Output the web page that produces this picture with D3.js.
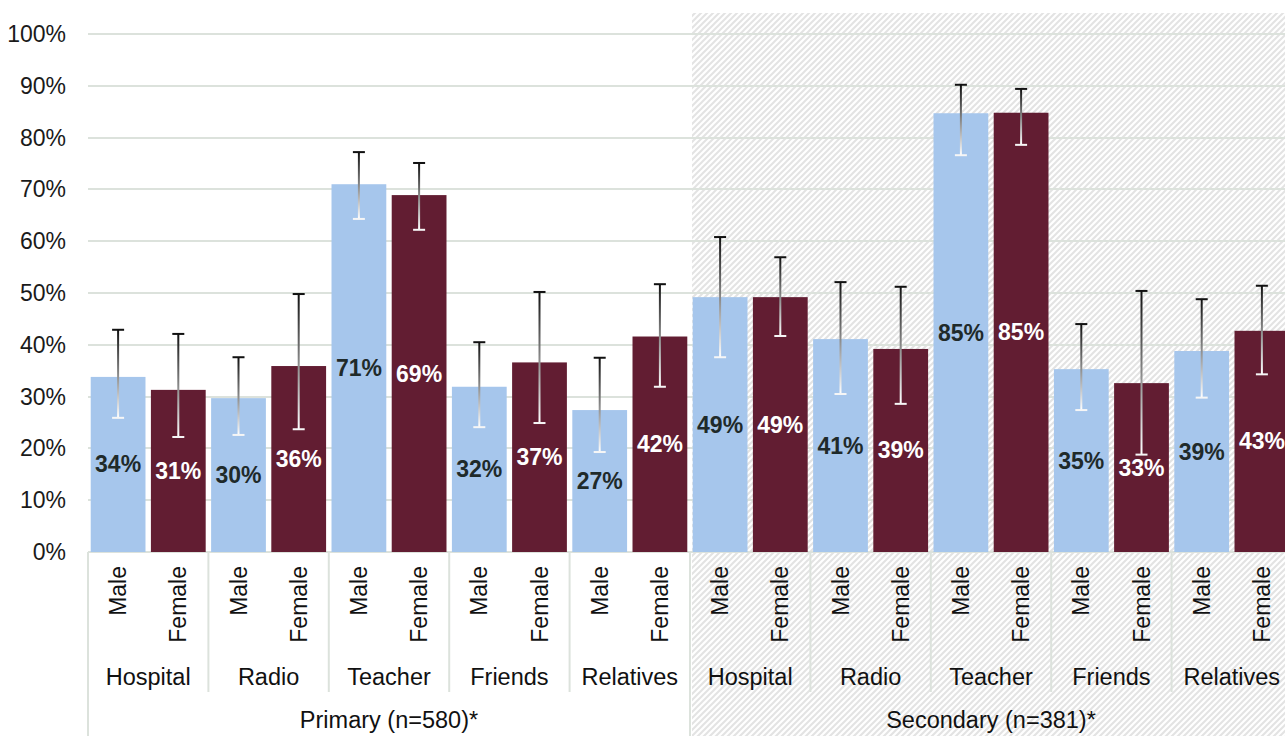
<!DOCTYPE html>
<html>
<head>
<meta charset="utf-8">
<script src="https://cdn.jsdelivr.net/npm/d3@7"></script>
<style>
  html, body { margin: 0; padding: 0; background: #fff; }
  svg { display: block; font-family: "Liberation Sans", Arial, sans-serif; }
</style>
</head>
<body>
<svg id="chart" width="1285" height="736"></svg>
<script>
// ---- Data ----
const groups = ["Primary (n=580)*", "Secondary (n=381)*"];
const sources = ["Hospital", "Radio", "Teacher", "Friends", "Relatives"];
const sexes = ["Male", "Female"];

const primaryMale        = [33.8, 29.7, 71.0, 31.9, 27.4];
const primaryMaleLow     = [25.9, 22.6, 64.3, 24.1, 19.3];
const primaryMaleHigh    = [42.9, 37.6, 77.2, 40.5, 37.5];
const primaryFemale      = [31.3, 35.9, 68.9, 36.6, 41.6];
const primaryFemaleLow   = [22.2, 23.7, 62.2, 24.9, 31.9];
const primaryFemaleHigh  = [42.1, 49.8, 75.1, 50.2, 51.7];

const secondaryMale       = [49.2, 41.1, 84.7, 35.3, 38.8];
const secondaryMaleLow    = [37.6, 30.5, 76.6, 27.4, 29.8];
const secondaryMaleHigh   = [60.8, 52.1, 90.2, 44.0, 48.8];
const secondaryFemale     = [49.2, 39.2, 84.8, 32.6, 42.7];
const secondaryFemaleLow  = [41.7, 28.6, 78.6, 18.8, 34.3];
const secondaryFemaleHigh = [56.9, 51.2, 89.4, 50.4, 51.4];

const yTicks = [0, 10, 20, 30, 40, 50, 60, 70, 80, 90, 100];

// ---- Build flat rows ----
const series = [
  [[primaryMale, primaryMaleLow, primaryMaleHigh], [primaryFemale, primaryFemaleLow, primaryFemaleHigh]],
  [[secondaryMale, secondaryMaleLow, secondaryMaleHigh], [secondaryFemale, secondaryFemaleLow, secondaryFemaleHigh]]
];
const rows = [];
groups.forEach((g, gi) => {
  sources.forEach((s, si) => {
    sexes.forEach((sx, xi) => {
      const [v, lo, hi] = series[gi][xi];
      rows.push({ group: g, gi, source: s, si, sex: sx, xi,
                  key: gi + "-" + si + "-" + xi, value: v[si], low: lo[si], high: hi[si] });
    });
  });
});

// ---- Layout ----
const svg = d3.select("#chart");
const W = 1285, H = 736;
const plotLeft = 88, plotRight = 1292, plotTop = 34, plotBase = 552;

const x = d3.scaleBand().domain(rows.map(d => d.key)).range([plotLeft, plotRight])
  .paddingInner(0.09).paddingOuter(0.045);
const catX = d3.scaleBand().domain(d3.range(groups.length * sources.length)).range([plotLeft, plotRight]);
const groupX = d3.scaleBand().domain(groups).range([plotLeft, plotRight]);
const y = d3.scaleLinear().domain([0, 100]).range([plotBase, plotTop]);

const colors = { Male: "#a6c6ec", Female: "#621d32" };
const gridColor = "#dce2dc";

// ---- Defs ----
const defs = svg.append("defs");
const pat = defs.append("pattern").attr("id", "hatch")
  .attr("patternUnits", "userSpaceOnUse").attr("width", 6).attr("height", 6);
pat.append("rect").attr("width", 6).attr("height", 6).attr("fill", "#fff");
pat.append("path").attr("d", "M-1,1 l2,-2 M0,6 l6,-6 M5,7 l2,-2")
  .attr("stroke", "#e3e3e3").attr("stroke-width", 2);

const grad = defs.append("linearGradient").attr("id", "errGrad")
  .attr("x1", 0).attr("y1", 0).attr("x2", 0).attr("y2", 1);
grad.append("stop").attr("offset", "0%").attr("stop-color", "#111");
grad.append("stop").attr("offset", "100%").attr("stop-color", "#fff");

// ---- Hatched secondary background ----
svg.append("rect")
  .attr("x", groupX(groups[1]) + 2).attr("y", 13)
  .attr("width", W - groupX(groups[1])).attr("height", H - 13)
  .attr("fill", "url(#hatch)");

// ---- Gridlines ----
svg.append("g").selectAll("line").data(yTicks).join("line")
  .attr("x1", plotLeft).attr("x2", W)
  .attr("y1", d => Math.round(y(d))).attr("y2", d => Math.round(y(d)))
  .attr("stroke", gridColor).attr("stroke-width", 2);

// ---- Y axis labels ----
svg.append("g").selectAll("text").data(yTicks).join("text")
  .attr("x", 66).attr("y", d => y(d))
  .attr("text-anchor", "end").attr("dominant-baseline", "central")
  .attr("font-size", 23).attr("fill", "#1a1a1a")
  .text(d => d + "%");

// ---- Category separators ----
const bounds = d3.range(groups.length * sources.length + 1);
svg.append("g").selectAll("line").data(bounds).join("line")
  .attr("x1", d => plotLeft + d * catX.step()).attr("x2", d => plotLeft + d * catX.step())
  .attr("y1", plotBase)
  .attr("y2", d => d % sources.length === 0 ? H : 692)
  .attr("stroke", gridColor).attr("stroke-width", 2);

// ---- Bars ----
svg.append("g").selectAll("rect").data(rows).join("rect")
  .attr("x", d => x(d.key)).attr("width", x.bandwidth())
  .attr("y", d => y(d.value)).attr("height", d => plotBase - y(d.value))
  .attr("fill", d => colors[d.sex]);

// ---- Error bars ----
const eb = svg.append("g").selectAll("g").data(rows).join("g");
eb.append("rect")
  .attr("x", d => x(d.key) + x.bandwidth() / 2 - 1)
  .attr("width", 2)
  .attr("y", d => y(d.high)).attr("height", d => y(d.low) - y(d.high))
  .attr("fill", "url(#errGrad)");
eb.append("rect")
  .attr("x", d => x(d.key) + x.bandwidth() / 2 - 6)
  .attr("width", 12).attr("y", d => y(d.high) - 1).attr("height", 2)
  .attr("fill", "#111");
eb.append("rect")
  .attr("x", d => x(d.key) + x.bandwidth() / 2 - 6)
  .attr("width", 12).attr("y", d => y(d.low) - 1).attr("height", 2)
  .attr("fill", "#f6f6f6");

// ---- Value labels ----
svg.append("g").selectAll("text").data(rows).join("text")
  .attr("x", d => x(d.key) + x.bandwidth() / 2)
  .attr("y", d => (y(d.value) + plotBase) / 2)
  .attr("text-anchor", "middle").attr("dominant-baseline", "central")
  .attr("font-size", 23).attr("font-weight", "bold")
  .attr("fill", d => d.sex === "Male" ? "#1f2a2a" : "#ffffff")
  .text(d => Math.round(d.value) + "%");

// ---- Sex labels (rotated) ----
svg.append("g").selectAll("text").data(rows).join("text")
  .attr("transform", d => `translate(${x(d.key) + x.bandwidth() / 2},566) rotate(-90)`)
  .attr("text-anchor", "end").attr("dominant-baseline", "central")
  .attr("font-size", 23).attr("fill", "#111")
  .text(d => d.sex);

// ---- Source labels ----
const cats = [];
groups.forEach((g, gi) => sources.forEach((s, si) => cats.push({ i: gi * sources.length + si, s })));
svg.append("g").selectAll("text").data(cats).join("text")
  .attr("x", d => catX(d.i) + catX.bandwidth() / 2).attr("y", 685)
  .attr("text-anchor", "middle")
  .attr("font-size", 23.5).attr("fill", "#111")
  .text(d => d.s);

// ---- Group labels ----
svg.append("g").selectAll("text").data(groups).join("text")
  .attr("x", d => groupX(d) + groupX.bandwidth() / 2).attr("y", 728)
  .attr("text-anchor", "middle")
  .attr("font-size", 23.5).attr("fill", "#111")
  .text(d => d);
</script>
</body>
</html>
